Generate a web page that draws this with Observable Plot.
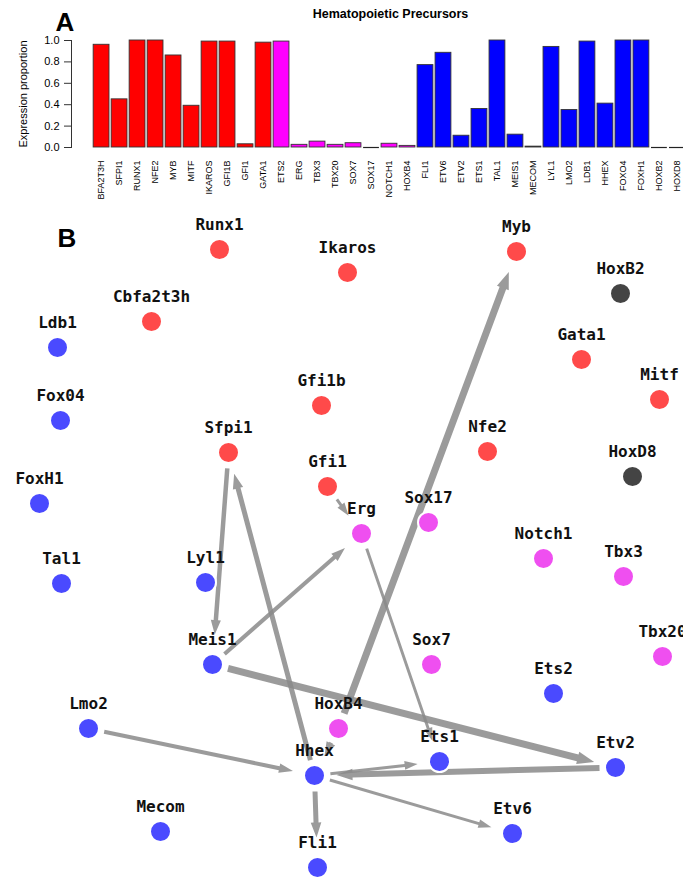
<!DOCTYPE html>
<html>
<head>
<meta charset="utf-8">
<script src="https://cdn.jsdelivr.net/npm/d3@7"></script>
<script src="https://cdn.jsdelivr.net/npm/@observablehq/plot@0.6"></script>
<style>
html, body { margin: 0; padding: 0; background: #fff; overflow: hidden; }
#root { width: 683px; height: 878px; position: relative; overflow: hidden; background: #fff; }
#root svg { display: block; overflow: hidden; }
</style>
</head>
<body>
<div id="root"></div>
<script>
// ---------- Panel A data ----------
const genes = ["CBFA2T3H","SFPI1","RUNX1","NFE2","MYB","MITF","IKAROS","GFI1B","GFI1","GATA1",
  "ETS2","ERG","TBX3","TBX20","SOX7","SOX17","NOTCH1","HOXB4",
  "FLI1","ETV6","ETV2","ETS1","TAL1","MEIS1","MECOM","LYL1","LMO2","LDB1","HHEX","FOXO4","FOXH1","HOXB2","HOXD8"];
const expression = [0.96,0.45,1.0,1.0,0.86,0.39,0.99,0.99,0.03,0.98,
  0.99,0.025,0.055,0.025,0.04,0,0.035,0.015,
  0.77,0.885,0.11,0.36,1.0,0.12,0.008,0.94,0.35,0.99,0.41,1.0,1.0,0,0];
const geneGroup = ["I","I","I","I","I","I","I","I","I","I",
  "II","II","II","II","II","II","II","II",
  "III","III","III","III","III","III","III","III","III","III","III","III","III","III","III"];
const yTicks = [0, 0.2, 0.4, 0.6, 0.8, 1.0];
const barGroups = ["I","II","III"];
const barColors = ["#ff0000","#ff00ff","#0000ff"];

// ---------- Panel B data ----------
const nodeNames = ["Runx1","Ikaros","Myb","HoxB2","Cbfa2t3h","Gata1","Ldb1","Gfi1b","Mitf","Fox04",
  "Sfpi1","Nfe2","HoxD8","Gfi1","FoxH1","Sox17","Erg","Notch1","Tbx3","Tal1",
  "Lyl1","Meis1","Sox7","Tbx20","Ets2","Lmo2","HoxB4","Hhex","Ets1","Etv2",
  "Mecom","Etv6","Fli1"];
const nodeX = [219,347,516,620,151,581,57,321,659,60,
  228,487,632,327,39,428,361,543,623,61,
  205,212,431,662,553,88,338,314,439,615,
  160,512,317];
const nodeY = [49,72,51,93,121,159,147,205,199,220,
  252,251,276,286,303,322,333,358,376,383,
  382,464,464,456,493,528,528,575,561,567,
  631,633,667];
const nodeGroup = ["red","red","red","dark","red","red","blue","red","red","blue",
  "red","red","dark","red","blue","magenta","magenta","magenta","magenta","blue",
  "blue","blue","magenta","magenta","blue","blue","magenta","blue","blue","blue",
  "blue","blue","blue"];
const nodeGroups = ["red","magenta","blue","dark"];
const nodeColors = ["#ff4a4a","#ef4ff0","#4a4aff","#444444"];

const edgeFrom   = ["HoxB4","Meis1","Etv2","Hhex","Sfpi1","Meis1","Lmo2","Hhex","HoxB4","Hhex","Hhex","Erg","Gfi1"];
const edgeTo     = ["Myb","Etv2","Hhex","Sfpi1","Meis1","Erg","Hhex","Fli1","Hhex","Ets1","Etv6","Ets1","Erg"];
const edgeWeight = [7,7,6,5,4.5,4,4,5,4,3,3,3,3];

// ---------- Panel A ----------
const bars = genes.map((g, i) => ({gene: g, value: expression[i], group: geneGroup[i]}));
const sans = "'Liberation Sans', Arial, Helvetica, sans-serif";

const chartA = Plot.plot({
  width: 683, height: 200,
  marginLeft: 71, marginRight: 0, marginTop: 40, marginBottom: 53,
  style: {fontFamily: sans, background: "#fff", color: "#000"},
  x: {type: "band", domain: genes, range: [91, 687], padding: 0.12, axis: null},
  y: {domain: [0, 1], axis: null},
  color: {domain: barGroups, range: barColors},
  marks: [
    Plot.barY(bars, {x: "gene", y: "value", fill: "group", stroke: "#333", strokeWidth: 0.9}),
    Plot.tickY(bars.filter(d => d.value === 0), {x: "gene", y: "value", stroke: "#222", strokeWidth: 1.2}),
    Plot.axisY({ticks: yTicks, tickFormat: d3.format(".1f"), tickSize: 7, tickPadding: 5, fontSize: 11, label: null, stroke: "#333"}),
    Plot.frame({anchor: "left", stroke: "#333"}),
    Plot.text(genes, {x: d => d, frameAnchor: "bottom", rotate: -90, textAnchor: "end", lineAnchor: "middle", dy: 13, fontSize: 9}),
    Plot.text(["Expression proportion"], {frameAnchor: "left", rotate: -90, textAnchor: "middle", lineAnchor: "middle", dx: -48, fontSize: 11}),
    Plot.text(["Hematopoietic Precursors"], {frameAnchor: "top", lineAnchor: "top", dx: 13, dy: -31, fontSize: 12.5, fontWeight: "bold"}),
    Plot.text(["A"], {frameAnchor: "top-left", textAnchor: "start", lineAnchor: "top", dx: -16, dy: -28, fontSize: 26, fontWeight: "bold"})
  ]
});

// ---------- Panel B ----------
const nodes = nodeNames.map((n, i) => ({name: n, x: nodeX[i], y: nodeY[i], group: nodeGroup[i]}));
const idx = new Map(nodeNames.map((n, i) => [n, i]));
const START_INSET = 16, END_INSET = 22, END_INSET_ABOVE_LABEL = 30;
const edgePoly = [];
edgeFrom.forEach((f, k) => {
  const s = idx.get(f), t = idx.get(edgeTo[k]);
  const x1 = nodeX[s], y1 = nodeY[s], x2 = nodeX[t], y2 = nodeY[t];
  const L = Math.hypot(x2 - x1, y2 - y1), ux = (x2 - x1) / L, uy = (y2 - y1) / L;
  const nx = -uy, ny = ux;
  const w = edgeWeight[k], hl = 10 + w, hw = w / 2 + 2.8;
  // edges arriving straight from above stop over the target's label
  const endInset = uy > 0.95 ? END_INSET_ABOVE_LABEL : END_INSET;
  const sx = x1 + ux * START_INSET, sy = y1 + uy * START_INSET;
  const tx = x2 - ux * endInset, ty = y2 - uy * endInset;
  const bx = tx - ux * hl, by = ty - uy * hl;
  const pts = [
    [sx + nx * w / 2, sy + ny * w / 2],
    [bx + nx * w / 2, by + ny * w / 2],
    [bx + nx * hw, by + ny * hw],
    [tx, ty],
    [bx - nx * hw, by - ny * hw],
    [bx - nx * w / 2, by - ny * w / 2],
    [sx - nx * w / 2, sy - ny * w / 2]
  ];
  pts.forEach(p => edgePoly.push({edge: k, x: p[0], y: p[1]}));
});

const chartB = Plot.plot({
  width: 683, height: 678,
  margin: 0,
  style: {fontFamily: sans, background: "#fff", color: "#000"},
  x: {domain: [0, 683], range: [0, 683], axis: null},
  y: {domain: [0, 678], range: [0, 678], axis: null},
  color: {domain: nodeGroups, range: nodeColors},
  marks: [
    Plot.line(edgePoly, {x: "x", y: "y", z: "edge", curve: "linear-closed", fill: "#8a8a8a", fillOpacity: 0.85, stroke: "none"}),
    Plot.dot(nodes, {x: "x", y: "y", r: 10.5, fill: "group", stroke: "white", strokeWidth: 2}),
    Plot.text(nodes, {x: "x", y: "y", text: "name", dy: -19.5, lineAnchor: "bottom", fontFamily: "'DejaVu Sans Mono', monospace", fontWeight: "bold", fontSize: 16, fill: "#111"}),
    Plot.text(["B"], {frameAnchor: "top-left", textAnchor: "start", lineAnchor: "top", dx: 57, dy: 28, fontSize: 26, fontWeight: "bold"})
  ]
});

const root = document.getElementById("root");
root.appendChild(chartA);
root.appendChild(chartB);
</script>
</body>
</html>
